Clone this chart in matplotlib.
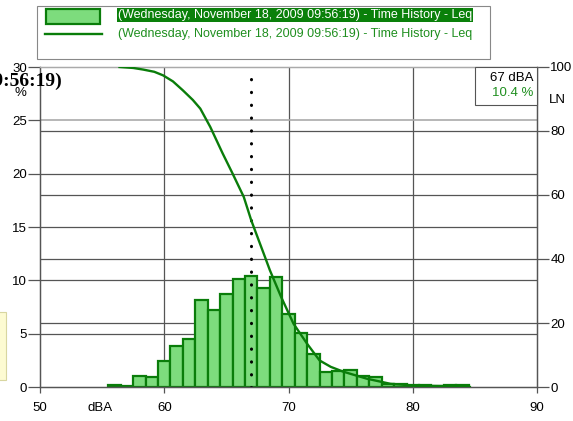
import matplotlib
matplotlib.use('Agg')
import matplotlib.pyplot as plt
import matplotlib.transforms as mtransforms
from matplotlib.patches import Rectangle
from matplotlib.lines import Line2D

plt.rcParams['font.family'] = ['Liberation Sans', 'DejaVu Sans']

# Distribucion de niveles (bins de 1 dBA) en % del tiempo
niveles = [56, 57, 58, 59, 60, 61, 62, 63, 64, 65, 66, 67, 68, 69, 70,
           71, 72, 73, 74, 75, 76, 77, 78, 79, 80, 81, 82, 83, 84]
porcentaje = [0.22, 0.13, 1.03, 0.94, 2.4, 3.85, 4.5, 8.2, 7.2, 8.7, 10.1, 10.4, 9.3, 10.3, 6.85,
              5.1, 3.1, 1.4, 1.5, 1.6, 1.03, 0.9, 0.3, 0.3, 0.2, 0.15, 0.1, 0.22, 0.15]

# Curva LN (% del tiempo que se supera cada nivel)
ln_nivel = [56.4, 57.5, 58.3, 59.2, 59.9, 60.7, 61.5, 62.3, 62.9, 63.7, 64.7, 65.5, 66.4, 67.0,
            68.1, 68.5, 69.4, 70.4, 71.5, 72.5, 73.4, 74.4, 76.3, 78.2, 80.3, 82.5, 84.6]
ln_valor = [100, 99.7, 99.2, 98.5, 97.4, 95.5, 92.7, 89.7, 87, 81.3, 73, 66.7, 59.4, 52.1,
            40.7, 36.5, 28.2, 19.8, 13.5, 8.3, 6.3, 4.8, 2.6, 1.0, 0.4, 0.3, 0.0]

# Cursor
cursor_nivel = 67
cursor_pct = 10.4

titulo = '(Wednesday, November 18, 2009 09:56:19)'
serie = '(Wednesday, November 18, 2009 09:56:19) - Time History - Leq'

x_ticks = [50, 60, 70, 80, 90]
y_ticks = [0, 5, 10, 15, 20, 25, 30]
ln_ticks = [0, 20, 40, 60, 80, 100]

verde = '#0a7d0a'
verde_claro = '#7ddc7d'
gris = '#555555'

W, H = 573, 421
fig = plt.figure(figsize=(W / 100, H / 100), dpi=100)
ax = fig.add_axes([40 / W, (H - 387) / H, 497 / W, 320 / H])
ax2 = ax.twinx()

ax.set_xlim(50, 90)
ax.set_ylim(0, 30)
ax2.set_ylim(0, 100)

# Grilla: vertical + horizontal de ambos ejes (debajo de las barras)
for x in x_ticks[1:-1]:
    ax.axvline(x, color=gris, lw=0.9, zorder=0)
for y in y_ticks[1:-1]:
    ax.axhline(y, color='#aaaaaa' if y == 25 else gris, lw=1.2 if y == 25 else 0.9, zorder=0)
mezcla = mtransforms.blended_transform_factory(ax.transAxes, ax2.transData)
for y in ln_ticks[1:-1]:
    ax.plot([0, 1], [y, y], transform=mezcla, color=gris, lw=0.9, zorder=0)

# Histograma
ax.bar(niveles, porcentaje, width=1.0, color=verde_claro, edgecolor=verde,
       linewidth=1.6, zorder=2)

# Cursor punteado
ax.plot([cursor_nivel, cursor_nivel], [28.9, 0], color='black', lw=2.2,
        linestyle=(0, (0.1, 4.1)), dash_capstyle='round', zorder=3)

# Curva LN
ax2.plot(ln_nivel, ln_valor, color=verde, lw=1.7, zorder=4, solid_joinstyle='round')

# Ejes
for a in (ax, ax2):
    for s in a.spines.values():
        s.set_color(gris)
        s.set_linewidth(0.9)
    a.spines['top'].set_color('#aaaaaa')
ax.set_xticks(x_ticks)
ax.set_yticks(y_ticks)
ax2.set_yticks(ln_ticks)
ax.tick_params(axis='y', length=8.5, width=0.9, color=gris, labelsize=9.5, pad=1)
ax.tick_params(axis='x', length=4, width=0.9, color=gris, labelsize=9.5, pad=7)
ax2.tick_params(axis='y', length=8.5, width=0.9, color=gris, labelsize=9.5, pad=1)

fig.text(20 / W, 1 - 93 / H, '%', fontsize=9.5, ha='center', va='center')
fig.text(100 / W, 1 - 408 / H, 'dBA', fontsize=9.5, ha='center', va='center')
fig.text(557 / W, 1 - 100 / H, 'LN', fontsize=9.5, ha='center', va='center')

# Titulo (queda cortado a la izquierda)
fig.text(62 / W, 1 - 81 / H, titulo, fontsize=14, fontweight='bold',
         family='Liberation Serif', ha='right', va='center')

# Recuadro del cursor
fig.patches.append(Rectangle((475 / W, 1 - 105 / H), 62 / W, 38 / H, transform=fig.transFigure,
                             facecolor='white', edgecolor=gris, lw=0.8, zorder=5))
fig.text(533 / W, 1 - 78 / H, f'{cursor_nivel} dBA', fontsize=9.5, ha='right', va='center', zorder=6)
fig.text(533 / W, 1 - 93 / H, f'{cursor_pct} %', fontsize=9.5, ha='right', va='center',
         color='#1f8f1f', zorder=6)

# Recuadro amarillo a la izquierda
fig.patches.append(Rectangle((-5 / W, 1 - 380 / H), 11 / W, 68 / H, transform=fig.transFigure,
                             facecolor='#fdfbd2', edgecolor='#d8d6a0', lw=0.8))

# Leyenda
fig.patches.append(Rectangle((37 / W, 1 - 59 / H), 453 / W, 53 / H, transform=fig.transFigure,
                             facecolor='white', edgecolor='#888888', lw=0.8))
fig.patches.append(Rectangle((46 / W, 1 - 24 / H), 54 / W, 15 / H, transform=fig.transFigure,
                             facecolor=verde_claro, edgecolor=verde, lw=1.6))
fig.lines.append(Line2D([45 / W, 102 / W], [1 - 34 / H, 1 - 34 / H], transform=fig.transFigure,
                        color=verde, lw=1.7))
fig.text(118 / W, 1 - 15 / H, serie, fontsize=9.0, color='white', ha='left', va='center',
         bbox=dict(facecolor='#0a800a', edgecolor='none', pad=0.6))
fig.text(118 / W, 1 - 34 / H, serie, fontsize=9.0, color='#1f8f1f', ha='left', va='center')

fig.savefig('out.png', dpi=100)
